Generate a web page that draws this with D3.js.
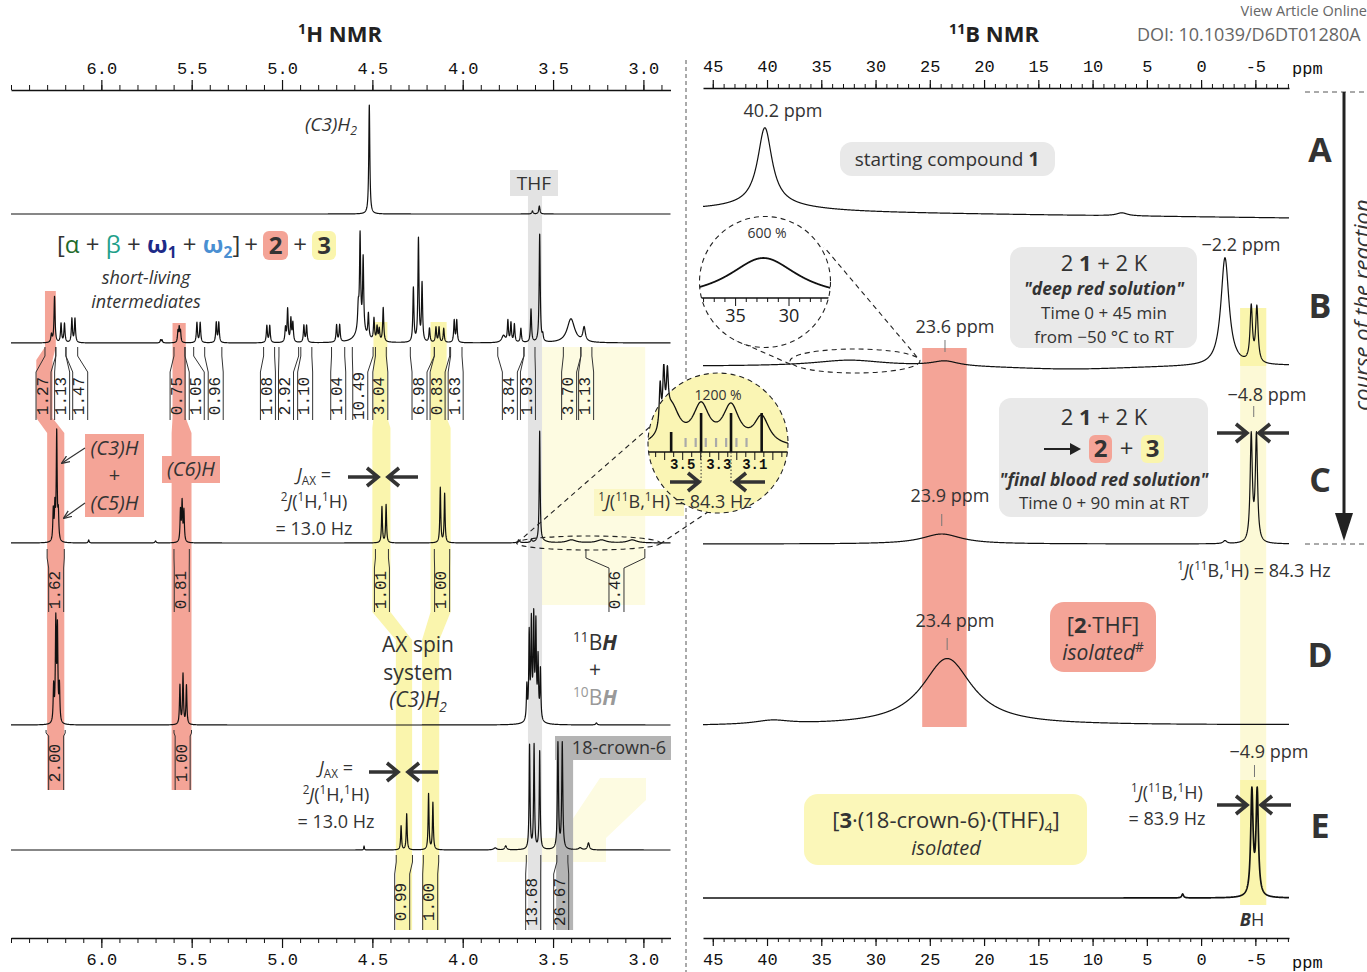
<!DOCTYPE html>
<html><head><meta charset="utf-8">
<script src="https://cdn.jsdelivr.net/npm/d3@7/dist/d3.min.js"></script>
<style>
html,body{margin:0;padding:0;background:#fff;}
svg{display:block;font-family:'Open Sans',sans-serif;}
</style></head>
<body>
<svg id="fig" width="1367" height="972"></svg>
<script>
// ================= DATA =================
const H_MAJOR = [6.0, 5.5, 5.0, 4.5, 4.0, 3.5, 3.0];
const B_MAJOR = [45, 40, 35, 30, 25, 20, 15, 10, 5, 0, -5];
const SPECTRA = ['A', 'B', 'C', 'D', 'E'];
const ZOOM_H_TICKS = [3.5, 3.3, 3.1];
const ZOOM_B_TICKS = [35, 30];

// 1H peak lists: [ppm, intensity, half-width (ppm)]
const H1_A = [[4.517,109,0.0035],[3.614,3,0.004],[3.576,8,0.004]];
const H1_B = [
  [6.276,8,0.004],[6.259,46,0.0035],[6.223,19,0.0035],[6.204,19,0.0035],[6.163,24,0.0035],[6.146,24,0.0035],
  [5.672,3,0.003],[5.664,3,0.003],
  [5.576,11,0.003],[5.569,14,0.003],[5.562,11,0.003],
  [5.471,20,0.0035],[5.453,20,0.0035],[5.364,20,0.0035],[5.350,20,0.0035],
  [5.084,17,0.0035],[5.068,17,0.0035],
  [4.981,14,0.0035],[4.969,33,0.0035],[4.951,23,0.0035],[4.940,19,0.0035],
  [4.879,17,0.0035],[4.864,17,0.0035],[4.698,17,0.0035],[4.681,17,0.0035],
  [4.565,14,0.03],[4.578,22,0.004],[4.568,92,0.0035],[4.551,72,0.0035],[4.522,24,0.0035],
  [4.491,22,0.0035],[4.474,14,0.0035],[4.462,12,0.0035],[4.440,34,0.0035],
  [4.273,54,0.0035],[4.245,103,0.0035],[4.225,58,0.0035],[4.184,14,0.0035],
  [4.148,15,0.0035],[4.131,15,0.0035],[4.105,14,0.0035],
  [4.047,22,0.0035],[4.033,22,0.0035],
  [3.774,7,0.012],[3.750,21,0.0035],[3.733,19,0.0035],[3.714,18,0.0035],[3.678,14,0.0035],
  [3.622,33,0.0035],[3.574,108,0.0035],[3.557,6,0.0035],
  [3.401,24,0.025],[3.328,14,0.008]
];
const H1_C = [
  [6.266,31,0.003],[6.257,33,0.003],[6.247,108,0.003],[6.238,26,0.003],
  [6.070,3,0.003],[5.700,2,0.004],
  [5.562,31,0.003],[5.553,39,0.003],[5.543,31,0.003],
  [4.447,36,0.003],[4.424,38,0.003],[4.124,55,0.003],[4.100,49,0.003],
  [3.690,3,0.006],[3.574,110,0.003],[3.620,3,0.004],
  [3.564,2,0.03],[3.398,3,0.03],[3.232,3,0.03],[3.062,3,0.03]
];
const H1_D = [
  [6.264,36,0.003],[6.252,100,0.003],[6.243,92,0.003],[6.232,36,0.003],
  [5.565,39,0.003],[5.548,50,0.003],[5.529,39,0.003],
  [3.605,12,0.02],[3.645,34,0.003],[3.632,84,0.003],[3.620,92,0.003],[3.607,92,0.003],
  [3.595,88,0.003],[3.583,58,0.003],[3.570,50,0.003],[3.260,2,0.005]
];
const H1_E = [
  [4.546,4,0.002],[4.341,24,0.003],[4.310,36,0.003],[4.189,56,0.003],[4.165,47,0.003],
  [3.820,2,0.01],[3.762,4,0.006],[3.630,104,0.003],[3.605,104,0.003],[3.574,98,0.003],
  [3.473,106,0.0035],[3.449,106,0.0035],[3.350,2,0.01],[3.304,7,0.006]
];
// 1H zoom (1200 %) on spectrum C
const H1_ZOOM = [[3.625,42,0.006],[3.605,50,0.006],[3.585,40,0.006],
  [3.564,38,0.055],[3.398,38,0.055],[3.232,38,0.055],[3.062,28,0.05]];
const H1_ZOOM_11B = [[3.564,20],[3.398,39],[3.232,39],[3.062,39]];
const H1_ZOOM_10B = [3.484,3.428,3.372,3.315,3.259,3.202,3.146];

// 11B peak lists: [ppm, intensity, half-width (ppm)]
const B11_A = [[40.2,77,0.8],[40.2,7,5],[7.3,3,0.6]];
const B11_B = [[32.4,6,4],[23.6,5,1.5],[12,-4,8],[-2.2,108,0.45],[-4.62,55,0.13],[-5.14,55,0.13]];
const B11_C = [[23.9,10,2.2],[-2.2,3,0.2],[-4.62,106,0.12],[-5.10,106,0.12]];
const B11_D = [[23.4,67,2.8],[39.5,4,2]];
const B11_E = [[1.7,4,0.1],[-4.68,104,0.13],[-5.17,104,0.13]];
const B11_ZOOM = [[32.4,42,4]];

// integrals: [from ppm, to ppm, value, label centre ppm]
const INT_B = [[6.312,6.252,'1.27',6.320],[6.252,6.196,'1.13',6.217],[6.196,6.131,'1.47',6.117],
  [5.598,5.537,'0.75',5.578],[5.537,5.489,'1.05',5.472],[5.428,5.333,'0.96',5.367],
  [5.102,5.041,'1.08',5.078],[5.017,4.908,'2.92',4.978],[4.896,4.835,'1.10',4.872],
  [4.726,4.653,'1.04',4.689],[4.611,4.496,'10.49',4.567],[4.483,4.423,'3.04',4.456],
  [4.290,4.157,'6.98',4.239],[4.157,4.072,'0.83',4.139],[4.067,4.004,'1.63',4.039],
  [3.806,3.661,'3.84',3.739],[3.661,3.600,'1.93',3.639],[3.443,3.346,'3.70',3.411],[3.346,3.285,'1.13',3.317]];
const INT_C = [[6.300,6.205,'1.62',6.250],[5.598,5.513,'0.81',5.555],[4.483,4.411,'1.01',4.447],
  [4.157,4.072,'1.00',4.114],[3.318,2.992,'0.46',3.149]];
const INT_D = [[6.306,6.200,'2.00',6.250],[5.598,5.501,'1.00',5.550]];
const INT_E = [[4.368,4.278,'0.99',4.335],[4.218,4.133,'1.00',4.180],[3.648,3.568,'13.68',3.610],[3.479,3.418,'26.67',3.455]];

// ================= SETUP =================
const RED = '#f4a497', YEL = '#faf5ad', PALE = '#fdfbe1', GREY = '#e3e3e3', DGREY = '#b4b4b4', BOX = '#e9e9e9', INK = '#333';
const svg = d3.select('#fig');
const defs = svg.append('defs');
const gBg = svg.append('g'), gSp = svg.append('g'), gInt = svg.append('g'), gAn = svg.append('g');
const xH = d3.scaleLinear().domain([6.5, 2.85]).range([11, 670.5]);
const xB = d3.scaleLinear().domain([45.9, -8.1]).range([703, 1289]);
const lor = (p, pk) => pk[1] / (1 + ((p - pk[0]) / pk[2]) ** 2);

function spectrum(g, x, peaks, yL, yR, step, sw) {
  const [d0, d1] = x.domain();
  const pts = d3.range(d0, d1, d0 > d1 ? -step : step);
  pts.push(d1);
  peaks.forEach(p => { if ((p[0] - d0) * (p[0] - d1) <= 0) pts.push(p[0]); });
  pts.sort((a, b) => d0 > d1 ? b - a : a - b);
  const [r0, r1] = x.range();
  const line = d3.line().x(p => x(p)).y(p => {
    const base = yL + (yR - yL) * (x(p) - r0) / (r1 - r0);
    return base - d3.sum(peaks, pk => lor(p, pk));
  });
  return g.append('path').datum(pts).attr('d', line).attr('fill', 'none')
    .attr('stroke', '#111').attr('stroke-width', sw || 1.2).attr('stroke-linejoin', 'round');
}

function rich(g, x, y, segs, o = {}) {
  const size = o.size || 18;
  const t = g.append('text').attr('x', x).attr('y', y).attr('text-anchor', o.anchor || 'middle')
    .attr('font-size', size).attr('fill', o.fill || INK);
  if (o.weight) t.attr('font-weight', o.weight);
  if (o.style) t.attr('font-style', o.style);
  if (o.family) t.attr('font-family', o.family);
  let shift = 0;
  segs.forEach(s => {
    if (typeof s === 'string') s = { t: s };
    const target = s.sup ? -size * 0.38 : s.sub ? size * 0.22 : 0;
    const ts = t.append('tspan').text(s.t);
    if (target - shift !== 0) ts.attr('dy', target - shift);
    shift = target;
    if (s.sup || s.sub) ts.attr('font-size', size * 0.65);
    if (s.b) ts.attr('font-weight', 'bold');
    if (s.i) ts.attr('font-style', 'italic');
    if (s.fill) ts.attr('fill', s.fill);
  });
  return t;
}
const T = (x, y, segs, o) => rich(gAn, x, y, segs, o);
const box = (g, x, y, w, h, fill, r = 9) => g.append('rect').attr('x', x).attr('y', y).attr('width', w).attr('height', h).attr('rx', r).attr('fill', fill);

function strip(x, pts, fill) {
  const L = pts.map(p => [x(p[0]), p[2]]);
  const R = pts.slice().reverse().map(p => [x(p[1]), p[2]]);
  gBg.append('path').attr('d', d3.line()(L.concat(R)) + 'Z').attr('fill', fill);
}

function integrals(list, x, geo) {
  const [y0, y1, y2, y3] = geo;
  list.forEach(d => {
    const [a, b, lab, c] = d;
    const x1 = x(a), x2 = x(b), xc = x(c), w = 7.5;
    gInt.append('path')
      .attr('d', `M${x1},${y0}V${y1}L${xc - w},${y2}V${y3}M${x2},${y0}V${y1}L${xc + w},${y2}V${y3}`)
      .attr('fill', 'none').attr('stroke', '#333').attr('stroke-width', 1);
    gInt.append('text').attr('transform', `translate(${xc},${(y2 + y3) / 2}) rotate(-90)`)
      .attr('text-anchor', 'middle').attr('dominant-baseline', 'central')
      .attr('font-family', "'Liberation Mono', monospace").attr('font-size', 16).attr('fill', '#222').text(lab);
  });
}

function bigArrow(x1, y, x2) {
  const d = x2 > x1 ? 1 : -1;
  gAn.append('path').attr('d', `M${x1},${y}H${x2 - d * 2}M${x2 - d * 11},${y - 9}L${x2},${y}L${x2 - d * 11},${y + 9}`)
    .attr('fill', 'none').attr('stroke', INK).attr('stroke-width', 3.6).attr('stroke-linejoin', 'miter');
}

function axis(x, y, orient, major, minor, fmt, tl, ml, pad) {
  const A = orient === 'top' ? d3.axisTop : d3.axisBottom;
  const g1 = gAn.append('g').attr('transform', `translate(0,${y})`)
    .call(A(x).tickValues(minor).tickSize(ml).tickSizeOuter(0).tickFormat(''));
  g1.selectAll('line').attr('stroke', '#111');
  g1.select('.domain').attr('stroke', '#111').attr('stroke-width', 1.3);
  const g2 = gAn.append('g').attr('transform', `translate(0,${y})`)
    .call(A(x).tickValues(major).tickSize(tl).tickPadding(pad).tickFormat(fmt));
  g2.select('.domain').remove();
  g2.selectAll('line').attr('stroke', '#111').attr('stroke-width', 1.2);
  g2.selectAll('text').attr('font-family', "'Liberation Mono', monospace").attr('font-size', 17).attr('fill', '#111');
}

// ================= BACKGROUND HIGHLIGHTS =================
gBg.append('rect').attr('x', xH(3.561)).attr('y', 347).attr('width', xH(2.99) - xH(3.561)).attr('height', 258).attr('fill', PALE);
gBg.append('path').attr('d', 'M497,838H560L600,778H646V800L606,838V862H497Z').attr('fill', PALE);
strip(xH, [[6.312, 6.252, 291], [6.312, 6.252, 347], [6.36, 6.27, 360], [6.36, 6.27, 418], [6.30, 6.205, 433], [6.30, 6.205, 790]], RED);
strip(xH, [[5.606, 5.533, 323], [5.606, 5.533, 418], [5.611, 5.501, 433], [5.611, 5.501, 790]], RED);
strip(xH, [[4.494, 4.417, 322], [4.494, 4.417, 418], [4.50, 4.40, 428], [4.50, 4.40, 612], [4.37, 4.28, 640], [4.37, 4.28, 930]], YEL);
strip(xH, [[4.178, 4.089, 322], [4.178, 4.089, 418], [4.178, 4.067, 428], [4.178, 4.067, 612], [4.225, 4.13, 640], [4.225, 4.13, 930]], YEL);
strip(xH, [[3.639, 3.561, 195], [3.639, 3.561, 930]], GREY);
box(gBg, 510, 170, 48, 26, GREY, 0);
strip(xH, [[3.483, 3.389, 737], [3.483, 3.389, 930]], DGREY);
box(gBg, 555, 736, 116, 24, DGREY, 0);
gBg.append('rect').attr('x', xB(25.7)).attr('y', 348).attr('width', xB(21.6) - xB(25.7)).attr('height', 379).attr('fill', RED);
gBg.append('rect').attr('x', xB(-3.6)).attr('y', 308).attr('width', xB(-6.0) - xB(-3.6)).attr('height', 597).attr('fill', '#fcf9d6');
gBg.append('rect').attr('x', xB(-3.6)).attr('y', 308).attr('width', xB(-6.0) - xB(-3.6)).attr('height', 58).attr('fill', YEL);
gBg.append('rect').attr('x', xB(-3.6)).attr('y', 780).attr('width', xB(-6.0) - xB(-3.6)).attr('height', 125).attr('fill', YEL);
box(gBg, 85, 434, 59, 83, RED, 0);
box(gBg, 162, 456, 58, 27, RED, 0);
box(gBg, 840, 142, 215, 34, BOX, 12);
box(gBg, 1010, 247, 187, 101, BOX, 12);
box(gBg, 999, 398, 209, 119, BOX, 12);
box(gBg, 1050, 602, 106, 70, RED, 14);
box(gBg, 804, 794, 283, 71, '#fbf7b9', 14);
box(gBg, 263, 231, 25, 29, RED, 6);
box(gBg, 312, 231, 24, 29, YEL, 6);
box(gBg, 1089, 435, 23, 28, RED, 6);
box(gBg, 1141, 435, 23, 28, YEL, 6);
gBg.append('rect').attr('x', 594).attr('y', 489).attr('width', 90).attr('height', 27).attr('fill', '#fbf7c4');

// ================= SPECTRA =================
spectrum(gSp, xH, H1_A, 214, 214, 0.0008);
spectrum(gSp, xH, H1_B, 343, 343, 0.0008);
spectrum(gSp, xH, H1_C, 543, 543, 0.0008);
spectrum(gSp, xH, H1_D, 725, 725, 0.0008);
spectrum(gSp, xH, H1_E, 850, 850, 0.0008);
spectrum(gSp, xB, B11_A, 211, 218, 0.02);
spectrum(gSp, xB, B11_B, 366, 365, 0.02);
spectrum(gSp, xB, B11_C, 544, 544, 0.02);
spectrum(gSp, xB, B11_D, 726, 725, 0.02);
spectrum(gSp, xB, B11_E, 898, 898, 0.02, 1.7);

// ================= INTEGRALS =================
integrals(INT_B, xH, [347, 356, 372, 420]);
integrals(INT_C, xH, [549, 558, 568, 612]);
integrals(INT_D, xH, [730, 733, 736, 790]);
integrals(INT_E, xH, [855, 862, 874, 930]);

// ================= AXES =================
const hMinor = d3.range(65, 28, -1).map(v => v / 10);
const bMinor = d3.range(45, -9, -1);
axis(xH, 90, 'top', H_MAJOR, hMinor, d3.format('.1f'), 10, 5, 6);
axis(xH, 938, 'bottom', H_MAJOR, hMinor, d3.format('.1f'), 10, 5, 5);
axis(xB, 88, 'top', B_MAJOR, bMinor, d => d3.format('d')(d).replace('−', '-'), 8, 4, 8);
axis(xB, 938, 'bottom', B_MAJOR, bMinor, d => d3.format('d')(d).replace('−', '-'), 8, 4, 7);
T(1292, 74, ['ppm'], { anchor: 'start', family: "'Liberation Mono', monospace", size: 17, fill: '#111' });
T(1292, 968, ['ppm'], { anchor: 'start', family: "'Liberation Mono', monospace", size: 17, fill: '#111' });

T(340, 42, [{ t: '1', sup: 1 }, 'H NMR'], { size: 22, weight: 'bold', fill: '#222' });
T(994, 42, [{ t: '11', sup: 1 }, 'B NMR'], { size: 22, weight: 'bold', fill: '#222' });
T(1367, 16, ['View Article Online'], { anchor: 'end', size: 14.5, fill: '#666' });
T(1137, 41, ['DOI: 10.1039/D6DT01280A'], { anchor: 'start', size: 18, fill: '#666' });

gAn.append('line').attr('x1', 686).attr('x2', 686).attr('y1', 60).attr('y2', 972).attr('stroke', '#555').attr('stroke-dasharray', '4,3');
[92, 544].forEach(y => gAn.append('line').attr('x1', 1305).attr('x2', 1367).attr('y1', y).attr('y2', y).attr('stroke', '#555').attr('stroke-dasharray', '5,4'));
gAn.append('line').attr('x1', 1344).attr('x2', 1344).attr('y1', 92).attr('y2', 520).attr('stroke', '#222').attr('stroke-width', 3);
gAn.append('path').attr('d', 'M1335,513L1353,513L1344,541Z').attr('fill', '#222');
gAn.append('text').attr('transform', 'translate(1370,305) rotate(-90)').attr('text-anchor', 'middle')
  .attr('font-size', 22).attr('font-style', 'italic').attr('fill', INK).text('course of the reaction');
const letterY = [162, 318, 492, 667, 838];
SPECTRA.forEach((s, i) => T(1320, letterY[i], [s], { size: 34, weight: 'bold', fill: '#333' }));

// ================= 1H ANNOTATIONS =================
T(331, 131, [{ t: '(C3)H', i: 1 }, { t: '2', sub: 1, i: 1 }], { size: 19 });
T(534, 190, ['THF'], { size: 19 });
T(57, 253, [{ t: '[', fill: '#333' }, { t: 'α', fill: '#1f6b2c' }, ' + ', { t: 'β', fill: '#1ea08a' }, ' + ',
  { t: 'ω', fill: '#1d2a88', b: 1 }, { t: '1', sub: 1, b: 1, fill: '#1d2a88' }, ' + ',
  { t: 'ω', fill: '#4a8fd2', b: 1 }, { t: '2', sub: 1, b: 1, fill: '#4a8fd2' }, { t: ']', fill: '#333' }], { size: 24, anchor: 'start' });
T(251, 253, ['+'], { size: 24 });
T(275.5, 254, [{ t: '2', b: 1 }], { size: 24 });
T(300, 253, ['+'], { size: 24 });
T(324, 254, [{ t: '3', b: 1 }], { size: 24 });
T(146, 284, ['short-living'], { size: 18, style: 'italic' });
T(146, 308, ['intermediates'], { size: 18, style: 'italic' });

T(114.5, 455, [{ t: '(C3)H', i: 1 }], { size: 20 });
T(114.5, 482, ['+'], { size: 20 });
T(114.5, 510, [{ t: '(C5)H', i: 1 }], { size: 20 });
T(191, 476, [{ t: '(C6)H', i: 1 }], { size: 20 });
defs.append('marker').attr('id', 'ah').attr('viewBox', '0 0 10 10').attr('refX', 9).attr('refY', 5)
  .attr('markerWidth', 7).attr('markerHeight', 7).attr('orient', 'auto')
  .append('path').attr('d', 'M0,1L10,5L0,9').attr('fill', 'none').attr('stroke', '#333').attr('stroke-width', 1.5);
[[85, 448, 62, 463], [85, 503, 64, 518]].forEach(a => gAn.append('line').attr('x1', a[0]).attr('y1', a[1]).attr('x2', a[2]).attr('y2', a[3])
  .attr('stroke', '#333').attr('stroke-width', 1.2).attr('marker-end', 'url(#ah)'));

function jax(cx, y) {
  T(cx, y, [{ t: 'J', i: 1 }, { t: 'AX', sub: 1 }, ' ='], { size: 18 });
  T(cx, y + 27, [{ t: '2', sup: 1 }, { t: 'J', i: 1 }, '(', { t: '1', sup: 1 }, 'H,', { t: '1', sup: 1 }, 'H)'], { size: 18 });
  T(cx, y + 54, ['= 13.0 Hz'], { size: 18 });
}
jax(314, 481);
bigArrow(348, 477, 378);
bigArrow(418, 477, 388);
jax(336, 774);
bigArrow(369, 772, 398);
bigArrow(438, 772, 408);

T(418, 652, ['AX spin'], { size: 21 });
T(418, 680, ['system'], { size: 21 });
T(418, 707, [{ t: '(C3)H', i: 1 }, { t: '2', sub: 1, i: 1 }], { size: 21 });
T(595, 650, [{ t: '11', sup: 1 }, 'B', { t: 'H', b: 1, i: 1 }], { size: 21 });
T(595, 677, ['+'], { size: 21 });
T(595, 705, [{ t: '10', sup: 1 }, 'B', { t: 'H', b: 1, i: 1 }], { size: 21, fill: '#999' });
T(619, 754, ['18-crown-6'], { size: 18, fill: '#333' });

const dash = s => s.attr('fill', 'none').attr('stroke', '#222').attr('stroke-width', 1.1).attr('stroke-dasharray', '5,4');
dash(gAn.append('ellipse').attr('cx', 588.5).attr('cy', 543).attr('rx', 72).attr('ry', 7));
dash(gAn.append('line').attr('x1', 517).attr('y1', 543).attr('x2', 652).attr('y2', 425));
dash(gAn.append('line').attr('x1', 660).attr('y1', 544).attr('x2', 708).attr('y2', 512));
const zc = { x: 718, y: 443, r: 70 };
gAn.append('circle').attr('cx', zc.x).attr('cy', zc.y).attr('r', zc.r).attr('fill', '#faf5b4');
const cp = defs.append('clipPath').attr('id', 'clipH');
cp.append('circle').attr('cx', zc.x).attr('cy', zc.y).attr('r', zc.r);
cp.append('rect').attr('x', 650).attr('y', 364).attr('width', 26).attr('height', 81);
const cpc = defs.append('clipPath').attr('id', 'clipHc');
cpc.append('circle').attr('cx', zc.x).attr('cy', zc.y).attr('r', zc.r);
const xZ = d3.scaleLinear().domain([3.70, 2.90]).range([682.7 - 0.2 * 180.3, 682.7 + 0.6 * 180.3]);
const gz = gAn.append('g');
spectrum(gz.append('g').attr('clip-path', 'url(#clipH)'), xZ, H1_ZOOM, 448, 448, 0.002, 1.3);
const gzc = gz.append('g').attr('clip-path', 'url(#clipHc)');
gzc.append('line').attr('x1', 640).attr('x2', 796).attr('y1', 452).attr('y2', 452).attr('stroke', '#111').attr('stroke-width', 1.3);
d3.range(370, 289, -5).map(v => v / 100).forEach(p => gzc.append('line').attr('x1', xZ(p)).attr('x2', xZ(p)).attr('y1', 452)
  .attr('y2', 452 + (Math.round(p * 100) % 10 === 0 ? 8 : 5)).attr('stroke', '#111'));
H1_ZOOM_11B.forEach(s => gzc.append('line').attr('x1', xZ(s[0])).attr('x2', xZ(s[0])).attr('y1', 452).attr('y2', 452 - s[1]).attr('stroke', '#111').attr('stroke-width', 2.6));
H1_ZOOM_10B.forEach(p => gzc.append('line').attr('x1', xZ(p)).attr('x2', xZ(p)).attr('y1', 447).attr('y2', 438).attr('stroke', '#aaa').attr('stroke-width', 2.2));
ZOOM_H_TICKS.forEach(p => rich(gzc, xZ(p), 469, [p.toFixed(1)], { size: 14, family: "'Liberation Mono', monospace", weight: 'bold', fill: '#111' }));
[3.398, 3.232].forEach(p => gzc.append('line').attr('x1', xZ(p)).attr('x2', xZ(p)).attr('y1', 452).attr('y2', 482).attr('stroke', '#333').attr('stroke-dasharray', '1.5,2'));
dash(gAn.append('circle').attr('cx', zc.x).attr('cy', zc.y).attr('r', zc.r));
T(718, 400, ['1200 %'], { size: 14 });
bigArrow(670, 482, 699);
bigArrow(765, 482, 735);
T(675, 508, [{ t: '1', sup: 1 }, { t: 'J', i: 1 }, '(', { t: '11', sup: 1 }, 'B,', { t: '1', sup: 1 }, 'H) = 84.3 Hz'], { size: 18 });

// ================= 11B ANNOTATIONS =================
const tick = (x, y1, y2) => gAn.append('line').attr('x1', x).attr('x2', x).attr('y1', y1).attr('y2', y2).attr('stroke', '#777');
T(783, 117, ['40.2 ppm'], { size: 18 });
T(947, 166, ['starting compound ', { t: '1', b: 1 }], { size: 19 });

dash(gAn.append('ellipse').attr('cx', 855).attr('cy', 361).attr('rx', 65).attr('ry', 12));
dash(gAn.append('line').attr('x1', 917).attr('y1', 357).attr('x2', 824).attr('y2', 247));
dash(gAn.append('line').attr('x1', 790).attr('y1', 364).attr('x2', 733).attr('y2', 339));
const bc = { x: 765, y: 282, r: 65.5 };
gAn.append('circle').attr('cx', bc.x).attr('cy', bc.y).attr('r', bc.r).attr('fill', '#fff');
defs.append('clipPath').attr('id', 'clipB').append('circle').attr('cx', bc.x).attr('cy', bc.y).attr('r', bc.r);
const xZB = d3.scaleLinear().domain([39.5, 25.5]).range([735.6 - 4.5 * 10.68, 735.6 + 9.5 * 10.68]);
const gzb = gAn.append('g').attr('clip-path', 'url(#clipB)');
spectrum(gzb, xZB, B11_ZOOM, 300, 300, 0.02, 1.8);
gzb.append('line').attr('x1', 690).attr('x2', 840).attr('y1', 298).attr('y2', 298).attr('stroke', '#111').attr('stroke-width', 1.3);
d3.range(39, 25, -1).forEach(p => gzb.append('line').attr('x1', xZB(p)).attr('x2', xZB(p)).attr('y1', 298).attr('y2', 298 + (p % 5 === 0 ? 8 : 4)).attr('stroke', '#111'));
ZOOM_B_TICKS.forEach(p => rich(gzb, xZB(p), 322, [String(p)], { size: 18, fill: '#222' }));
dash(gAn.append('circle').attr('cx', bc.x).attr('cy', bc.y).attr('r', bc.r));
T(767, 238, ['600 %'], { size: 14 });

T(955, 333, ['23.6 ppm'], { size: 18 }); tick(xB(23.6), 340, 352);
T(1241, 251, ['\u22122.2 ppm'], { size: 18 });
T(1104, 271, ['2 ', { t: '1', b: 1 }, ' + 2 K'], { size: 22 });
T(1104, 295, ['"deep red solution"'], { size: 17.5, weight: 'bold', style: 'italic' });
T(1104, 319, ['Time 0 + 45 min'], { size: 17 });
T(1104, 343, ['from \u221250 \u00B0C to RT'], { size: 17 });

T(1267, 401, ['\u22124.8 ppm'], { size: 18 }); tick(xB(-4.85), 406, 417);
bigArrow(1217, 433, 1247);
bigArrow(1289, 433, 1259);
T(1104, 425, ['2 ', { t: '1', b: 1 }, ' + 2 K'], { size: 22 });
gAn.append('path').attr('d', 'M1044,449H1076').attr('stroke', '#222').attr('stroke-width', 2);
gAn.append('path').attr('d', 'M1070,443L1081,449L1070,455Z').attr('fill', '#222');
T(1100.5, 457, [{ t: '2', b: 1 }], { size: 24 });
T(1126.5, 457, ['+'], { size: 24 });
T(1152.5, 457, [{ t: '3', b: 1 }], { size: 24 });
T(1104, 486, ['"final blood red solution"'], { size: 17.5, weight: 'bold', style: 'italic' });
T(1104, 509, ['Time 0 + 90 min at RT'], { size: 17 });
T(950, 502, ['23.9 ppm'], { size: 18 }); tick(xB(23.9), 514, 526);
T(1254, 577, [{ t: '1', sup: 1 }, { t: 'J', i: 1 }, '(', { t: '11', sup: 1 }, 'B,', { t: '1', sup: 1 }, 'H) = 84.3 Hz'], { size: 18 });

T(955, 627, ['23.4 ppm'], { size: 18 }); tick(xB(23.4), 638, 650);
T(1103, 633, ['[', { t: '2', b: 1 }, '\u00B7THF]'], { size: 22 });
T(1103, 660, [{ t: 'isolated', i: 1 }, { t: '#', sup: 1 }], { size: 21 });

T(1269, 758, ['\u22124.9 ppm'], { size: 18 }); tick(xB(-4.92), 765, 777);
T(1167, 799, [{ t: '1', sup: 1 }, { t: 'J', i: 1 }, '(', { t: '11', sup: 1 }, 'B,', { t: '1', sup: 1 }, 'H)'], { size: 18 });
T(1167, 825, ['= 83.9 Hz'], { size: 18 });
bigArrow(1217, 805, 1247);
bigArrow(1291, 805, 1261);
T(946, 828, ['[', { t: '3', b: 1 }, '\u00B7(18-crown-6)\u00B7(THF)', { t: '4', sub: 1 }, ']'], { size: 22 });
T(946, 855, ['isolated'], { size: 20, style: 'italic' });
T(1252, 926, [{ t: 'B', b: 1, i: 1 }, 'H'], { size: 18 });
</script>
</body></html>
